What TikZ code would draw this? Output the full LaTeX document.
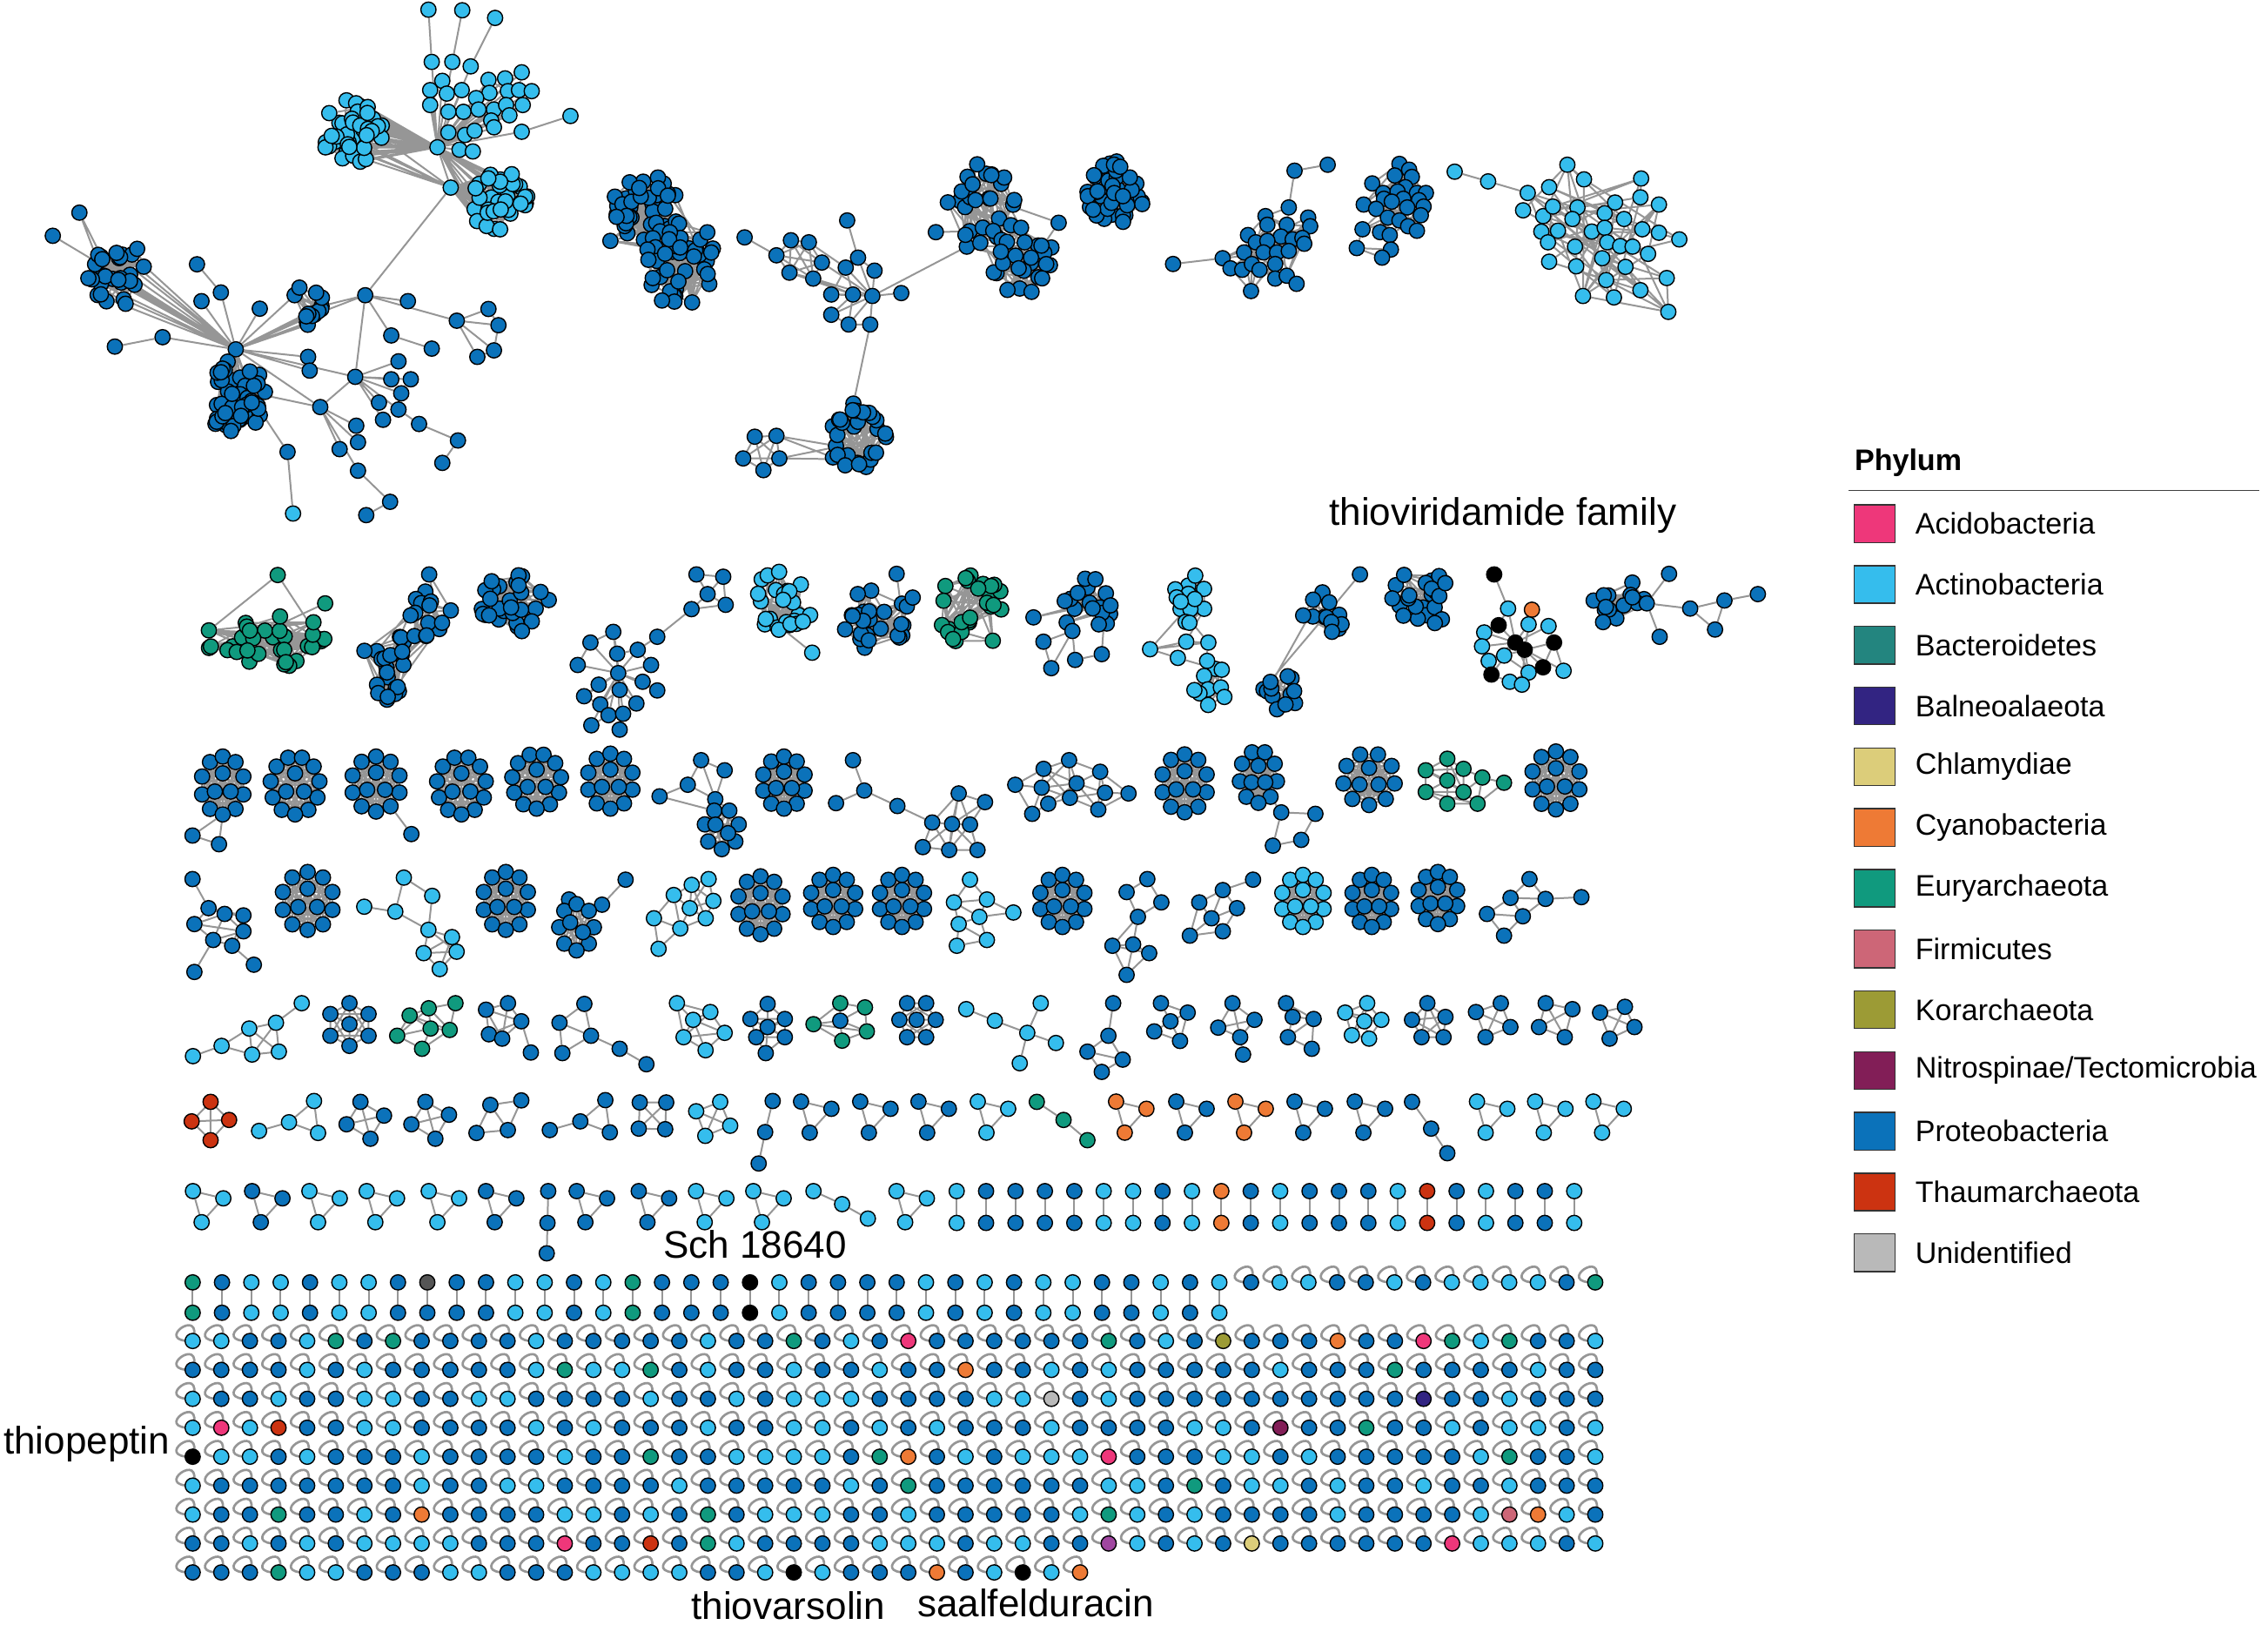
\documentclass[tikz,border=0pt]{standalone}
\usepackage{fontspec}
\setmainfont{Liberation Sans}
\pgfdeclarelayer{bgw}
\pgfdeclarelayer{bg}
\pgfsetlayers{bgw,bg,main}
\definecolor{P}{RGB}{11,114,186}
\definecolor{A}{RGB}{53,189,237}
\definecolor{E}{RGB}{16,154,126}
\definecolor{B}{RGB}{35,133,127}
\definecolor{C}{RGB}{238,122,53}
\definecolor{D}{RGB}{238,55,122}
\definecolor{T}{RGB}{204,51,17}
\definecolor{K}{RGB}{156,155,53}
\definecolor{N}{RGB}{130,30,87}
\definecolor{M}{RGB}{160,70,160}
\definecolor{F}{RGB}{205,102,119}
\definecolor{H}{RGB}{220,205,122}
\definecolor{L}{RGB}{50,36,130}
\definecolor{U}{RGB}{185,185,185}
\definecolor{X}{RGB}{0,0,0}
\definecolor{G}{RGB}{85,85,85}
\definecolor{edgec}{RGB}{150,150,150}
\tikzset{
  nd/.style={circle,draw=black,line width=0.85pt,minimum size=10.5pt,inner sep=0pt},
  lnk/.style={draw=edgec,line width=1.2pt},
  slp/.style={draw=edgec,line width=1.6pt},
  lab/.style={font=\fontsize{26.5}{30}\selectfont,inner sep=0pt},
  leg/.style={font=\fontsize{20.5}{24}\selectfont,inner sep=0pt,anchor=west},
  swatch/.style={draw=black!80,line width=0.8pt,minimum width=28pt,minimum height=26pt,inner sep=0pt}
}
\newcommand\nod[4]{\node[nd,fill=#4] (#1) at (#2,#3) {};}
\newcommand\lks[1]{\begin{pgfonlayer}{bg}\draw[lnk] \foreach \ea/\eb in {#1}{(\ea) -- (\eb)};\end{pgfonlayer}}
\newcommand\motif[3]{%
  \foreach \px/\py/\pc [count=\k] in {#2}{\node[nd,fill=\pc] (#1-\k) at (\px,\py) {};}%
  \begin{pgfonlayer}{bg}\draw[lnk] \foreach \ea/\eb in {#3}{(#1-\ea) -- (#1-\eb)};\end{pgfonlayer}}
\newcommand\rlinksx[3]{%
  \gdef\mypath{}%
  \foreach \k in {1,...,#2}{\foreach \m in {1,...,#3}{%
     \pgfmathtruncatemacro\jj{min(#2,1+floor(rnd*#2))}%
     \ifnum\jj=\k\relax\else\xdef\mypath{\mypath (#1-\k) -- (#1-\jj)}\fi}}%
  \begin{pgfonlayer}{bg}\draw[lnk] \mypath;\end{pgfonlayer}}
\newcommand\rlinks[4]{\pgfmathsetseed{#4}\rlinksx{#1}{#2}{#3}}
\newcommand\rclus[8]{%
  \pgfmathsetseed{#8}%
  \foreach \k in {1,...,#6}{%
    \pgfmathsetmacro\myang{360*rnd}%
    \pgfmathsetmacro\myrad{sqrt(rnd)}%
    \node[nd,fill=#7] (#1-\k) at ({#2+#4*\myrad*cos(\myang)},{#3+#5*\myrad*sin(\myang)}) {};}%
  \rlinksx{#1}{#6}{4}}
\newcommand\ring[8]{%
  \foreach \k in {1,...,#6}{\node[nd,fill=#8] (#1-\k) at ({#2+#4*cos(90+360*\k/#6)},{#3+#5*sin(90+360*\k/#6)}) {};}%
  \foreach \k in {1,...,#7}{\node[nd,fill=#8] (#1-i\k) at ({#2+0.42*#4*cos(30+360*\k/#7)},{#3+0.42*#5*sin(30+360*\k/#7)}) {};}%
  \gdef\mypath{}%
  \foreach \ea in {1,...,#6}{%
    \foreach \eb in {\ea,...,#6}{\ifnum\ea<\eb\relax\xdef\mypath{\mypath (#1-\ea) -- (#1-\eb)}\fi}%
    \foreach \eb in {1,...,#7}{\xdef\mypath{\mypath (#1-\ea) -- (#1-i\eb)}}}%
  \begin{pgfonlayer}{bg}\draw[lnk] \mypath;\end{pgfonlayer}}
\newcommand\tri[4]{%
  \node[nd,fill=#4] (#1-1) at (#2,#3) {};%
  \node[nd,fill=#4] (#1-2) at (#2+21,#3+5) {};%
  \node[nd,fill=#4] (#1-3) at (#2+6,#3+21.5) {};%
  \begin{pgfonlayer}{bg}\draw[lnk] (#1-1) -- (#1-2) -- (#1-3) -- (#1-1);\end{pgfonlayer}}
\newcommand\grow[4]{%
  \foreach \cc [count=\k from 0] in {#4}{\node[nd,fill=\cc] (g#1-\k) at (133.2+19.79*\k,#2) {};}%
  \begin{pgfonlayer}{bg}\draw[slp] \foreach \k in {0,...,#3}{(g#1-\k.center) .. controls +(8,-25) and +(-29,1) .. (g#1-\k.center)};\end{pgfonlayer}}
\newcommand\legitem[3]{\node[swatch,fill=#2] (sw#1) at (1296,362+42*#1) {};\node[leg] (lg#1) at (1324,362+42*#1) {#3};}
\begin{document}
\begin{tikzpicture}[x=1pt,y=-1pt]
\useasboundingbox (0,0) rectangle (1568,1123);
\begin{pgfonlayer}{bgw}\fill[white] (0,0) rectangle (1568,1123);\end{pgfonlayer}

% ================= top-left component =================
\rclus{la}{245}{92}{22}{24}{45}{A}{101}
\nod{h1}{302.4}{101.8}{A}
\nod{h2}{311.6}{129.7}{A}
\rclus{lb}{343}{139}{22}{22}{34}{A}{102}
\motif{lc}{337.7/55.2/A,349.2/54.2/A,360.7/50/A,338.4/64.2/A,329.2/67.8/A,351.1/63/A,358.8/62.3/A,367.6/63/A,330.8/75.7/A,341.5/75.7/A,349.9/72.6/A,361.4/72.6/A,339.6/83.3/A,352.2/79.7/A}{1/2,2/3,1/4,2/6,3/7,4/5,4/6,6/7,7/8,5/9,9/10,10/11,11/12,6/11,10/13,13/14,11/14,8/12,1/6,4/10}
\motif{lch}{296.2/6.7/A,319.6/7.1/A,342.3/12.4/A,298.5/42.8/A,312.7/42.8/A,325.4/45.9/A,305.8/55.9/A,297.4/62.3/A,308.9/64.7/A,319.2/62.3/A,297.4/72.6/A,310/77.3/A,320.4/77.3/A,310/91.6/A,321.5/93.3/A,317.7/103.5/A,326.9/104.7/A,328.1/90.4/A,341.5/88/A,360.7/91.1/A,394.4/80.2/A}{1/4,2/5,3/6,20/21}
\begin{pgfonlayer}{bg}
\draw[lnk] \foreach \k in {1,...,45}{(la-\k) -- (h1)};
\draw[lnk] \foreach \k in {4,...,20}{(lch-\k) -- (h1)};
\draw[lnk] \foreach \k in {1,...,14}{(lc-\k) -- (h1)};
\draw[lnk] \foreach \k in {1,...,34}{(lb-\k) -- (h2)};
\draw[lnk] \foreach \k in {1,...,18}{(lb-\k) -- (h1)};
\draw[lnk] \foreach \k in {1,3,...,11}{(la-\k) -- (h2)};
\draw[lnk] (h1) -- (h2);
\end{pgfonlayer}
\nod{hA}{252.5}{204.1}{P}
\nod{hB}{163}{241.5}{P}
\nod{hC}{245.6}{260.5}{P}
\nod{hD}{221.4}{281.4}{P}
\rclus{db}{163}{274}{22}{25}{50}{P}{103}
\rclus{dl}{84}{189}{24}{22}{28}{P}{104}
\rclus{ds}{212}{213}{15}{17}{14}{P}{105}
\motif{do}{54.9/147/P,36.5/163/P,136.2/182.7/P,152.7/202.2/P,139.3/208.2/P,179.6/213.4/P,112.4/233.1/P,79.4/239.6/P,282/208.2/P,337.7/213.6/P,315.8/221.7/P,344.6/224.8/P,270.5/231.9/P,298.5/241/P,330/246.7/P,341.5/242.2/P,213/246.7/P,214.1/256.2/P,275.5/249.8/P,270.5/262.2/P,284/262.2/P,277.4/271.9/P,262/278.3/P,275.5/283.1/P,264.8/290.2/P,289.7/293.1/P,316.6/304.5/P,305.8/320/P,246.3/294.3/P,247.5/305.7/P,234.8/310.5/P,247.5/325.4/P,269.7/346.9/P,253.2/356.1/P,198.8/312.4/P,202.6/355/A}{3/4,7/8,11/10,11/12,11/15,11/16,10/12,15/16,13/14,24/26,26/27,27/28,32/33,33/34,35/36,12/16}
\lks{do-1/dl-1,do-1/dl-5,do-2/dl-2,hB/do-4,hB/do-5,hB/do-6,hB/do-7,hA/do-9,hA/do-11,hA/do-13,hA/hC,hA/h2,hB/do-17,hB/do-18,hB/hC,hB/hD,hC/do-19,hC/do-20,hC/do-21,hC/do-22,hC/do-23,hC/do-24,hC/hD,hC/do-25,hD/do-29,hD/do-30,hD/do-31,hD/do-32,db-1/do-35,hD/db-2,hA/ds-1,hA/ds-2,hB/ds-3}
\begin{pgfonlayer}{bg}
\draw[lnk] \foreach \k in {1,...,14}{(dl-\k) -- (hB)};
\draw[lnk] \foreach \k in {1,...,7}{(ds-\k) -- (hB)};
\draw[lnk] \foreach \k in {1,...,15}{(db-\k) -- (hB)};
\end{pgfonlayer}

% ================= top-middle components =================
\rclus{ma}{446}{143}{24}{24}{40}{P}{201}
\rclus{mb}{472}{183}{26}{30}{40}{P}{202}
\nod{mx}{422}{166.5}{P}
\begin{pgfonlayer}{bg}
\draw[lnk] \foreach \k in {1,...,15}{(ma-\k) -- (mb-\k)};
\draw[lnk] \foreach \k in {1,...,5}{(mx) -- (mb-\k)};
\draw[lnk] \foreach \k in {1,...,3}{(mx) -- (ma-\k)};
\end{pgfonlayer}
\motif{ms}{514.8/164.1/P,546.8/166.1/P,559.2/167.5/P,536.8/176.5/P,568.2/181.5/P,545.8/188.5/P,562.2/192.6/P}{1/4,2/3,2/4,2/5,2/6,2/7,3/4,3/5,3/6,3/7,4/5,4/6,4/7,5/6,5/7,6/7}
\motif{mh}{603.1/204.6/P,585.7/152.4/P,593.2/178.1/P,584.7/185/P,604.6/187.1/P,623.1/202.6/P,574.7/203.6/P,589.7/203.6/P,574.7/217.6/P,586.7/224.3/P,601.6/224.3/P}{1/3,1/4,1/5,1/6,1/7,1/8,1/9,1/10,1/11,2/3,3/4,3/5,4/8,7/8,8/9,9/10,10/11,4/7,8/10}
\lks{ms-5/mh-1,ms-7/mh-1,ms-6/mh-8,ms-3/mh-4,ms-7/mh-8}
\nod{m3c}{668.4}{170.5}{P}
\rclus{m3a}{680}{140}{25}{28}{26}{P}{203}
\rclus{m3b}{707}{180}{22}{24}{24}{P}{204}
\nod{m3e}{647}{160.5}{P}
\nod{m3f}{731.9}{154}{P}
\begin{pgfonlayer}{bg}
\draw[lnk] \foreach \k in {1,...,5}{(m3c) -- (m3a-\k)};
\draw[lnk] \foreach \k in {1,...,3}{(m3c) -- (m3b-\k)};
\draw[lnk] \foreach \k in {1,...,12}{(m3a-\k) -- (m3b-\k)};
\end{pgfonlayer}
\lks{mh-1/m3c,m3e/m3a-1,m3f/m3b-2,m3f/m3a-3}
\rclus{m4}{771}{135}{22}{24}{42}{P}{205}
\nod{mb0}{590}{279}{P}
\rclus{mbt}{593}{305}{20}{23}{30}{P}{206}
\lks{mh-11/mb0,mb0/mbt-1,mb0/mbt-2,mb0/mbt-3}
\motif{mp}{521.8/301.9/P,536.8/301.3/P,513.8/316.9/P,538.8/316.9/P,527.8/325/P}{1/2,1/3,1/4,1/5,2/3,2/4,2/5,3/4,3/5,4/5}
\lks{mp-2/mbt-1,mp-4/mbt-2,mp-2/mbt-3,mp-4/mbt-4}
\motif{m5}{874.9/149.4/P,904.4/150.4/P,905.8/156.4/P,876.2/155.4/P,889.6/155.4/P,862.8/162.5/P,885.6/163.5/P,893.7/165.5/P,900.4/164.5/P,868.2/167.5/P,876.2/166.5/P,860.1/174.5/P,873.5/174.5/P,882.9/174.5/P,891/173.5/P,901.7/168.5/P,845.3/178.5/P,850.7/185.5/P,858.8/186.5/P,865.5/182.5/P,870.8/186.5/P,881.6/182.5/P,881.6/192.6/P,889.6/190.6/P,896.4/196.2/P,864.9/201.2/P}{1/4}
\rlinks{m5}{26}{3}{401}
\motif{m5x}{811/182.5/P,891/143.4/P,895/118/P,917.9/113.9/P}{2/3,3/4}
\lks{m5x-1/m5-17,m5x-2/m5-1,m5x-2/m5-5}
\motif{m6}{967.5/113.3/P,974.2/117.3/P,976.1/122.3/P,964.3/121.3/P,948.7/126.8/P,971.6/129.4/P,956.3/133.4/P,979.6/133.4/P,985.8/133.4/P,966.2/132.4/P,956.8/137.4/P,970.2/137.4/P,981/138.4/P,942.8/141.4/P,951.4/144.4/P,962.2/139.4/P,972.9/143.4/P,984.2/142.8/P,982.3/148.8/P,959.5/150.4/P,967.5/152.4/P,973.5/156.4/P,979.6/159.5/P,942/158.5/P,954.1/160.5/P,960.8/162.5/P,938/171.5/P,961.6/172.5/P,955.5/178.1/P}{27/28,27/29,28/29,24/27}
\rlinks{m6}{26}{3}{402}
\motif{m7c}{1005.7/118.7/A,1028.8/125.4/A}{1/2}
\motif{m7}{1056.2/133.4/A,1071/129.4/A,1083.6/113.9/A,1095.1/124/A,1053/145.4/A,1066.9/149.4/A,1073.6/142.8/A,1090.6/143.4/A,1087.1/151.4/A,1065.6/160.1/A,1077.1/159.5/A,1100.5/160.1/A,1109.4/147.4/A,1116.6/140/A,1109.4/157.5/A,1122.8/151.4/A,1134.1/136.4/A,1134.6/123.4/A,1146.9/141.4/A,1135.4/158.5/A,1146.9/160.9/A,1161/165.5/A,1070.2/167.5/A,1088.9/170.5/A,1111.2/167.5/A,1120.1/170.1/A,1128.7/170.5/A,1107.7/178.5/A,1123.8/184.5/A,1139.4/175.5/A,1071/180.9/A,1089.7/184.1/A,1110.4/193.6/A,1152.3/192.2/A,1134.1/200.6/A,1094.4/204.6/A,1115.8/205.6/A,1153.4/215.6/A}{34/38}
\rlinks{m7}{38}{2}{403}
\lks{m7c-2/m7-1}

% ================= row 2 (cluster row) =================
\rclus{r1}{180}{442}{45}{21}{32}{E}{301}
\nod{r1t}{192}{397.5}{E}\nod{r1u}{224.8}{417.1}{E}
\lks{r1t/r1-1,r1t/r1-2,r1u/r1-3}
\rclus{r2a}{268}{461}{22}{25}{22}{P}{302}
\rclus{r2b}{297}{428}{16}{20}{14}{P}{303}
\nod{r2t}{296.7}{397.1}{P}
\lks{r2t/r2b-1,r2t/r2b-2}
\begin{pgfonlayer}{bg}\draw[lnk] \foreach \k in {1,...,10}{(r2a-\k) -- (r2b-\k)};\end{pgfonlayer}
\rclus{r3}{355}{416}{25}{21}{28}{P}{304}
\motif{r4}{424/436.8/P,408.2/444.2/P,426.7/451.9/P,440.9/449.2/P,399.4/459.7/P,427.4/465.3/P,450.1/459.7/P,444.3/471.3/P,413.9/473.3/P,428.4/476.9/P,454.4/477.3/P,403.8/481.3/P,415/486.9/P,440/486.3/P,420.7/494.4/P,430.8/493.4/P,408.8/501.4/P,428.4/504.4/P,454.4/440.2/P,478.1/421.1/P,481.5/397.1/P,500/398.7/P,489.2/410.7/P,501.7/418.1/P}{6/1,6/2,6/3,6/4,6/5,6/7,6/8,6/9,6/10,6/11,6/12,6/13,6/14,6/15,6/16,6/17,6/18,1/3,2/5,4/7,9/12,10/13,13/15,15/17,16/18,14/16,12/13,3/4,4/19,19/20,20/24,20/23,21/22,21/23,22/23,23/24,22/24,1/2,8/11,10/14}
\rclus{r5}{541}{415}{22}{21}{26}{A}{305}
\nod{r5t}{561.5}{451.2}{A}\lks{r5t/r5-1}
\rclus{r6}{606}{428}{24}{22}{24}{P}{306}
\nod{r6t}{619.9}{396.7}{P}\nod{r6u}{631}{413.1}{P}\lks{r6t/r6-1,r6u/r6-2}
\rclus{r7}{673}{421}{24}{27}{26}{E}{307}
\rclus{r8}{752}{417}{21}{19}{18}{P}{308}
\motif{r8t}{714.5/426.8/P,721.4/443.6/P,726.8/461.9/P,743.3/456.2/P,761.7/452.2/P,741.4/436.2/P}{6/2,2/3,6/4,4/5,6/3}
\lks{r8t-1/r8-1,r8t-6/r8-2,r8t-5/r8-3,r8t-1/r8-4}
\rclus{r9a}{826}{413}{16}{19}{14}{A}{309}
\rclus{r9b}{836}{472}{15}{16}{10}{A}{310}
\motif{r9m}{795.1/448.8/A,814.3/454.8/A,820.1/443.6/A,835.4/444.2/A}{1/2,1/3,3/4,1/4}
\lks{r9m-3/r9a-1,r9m-4/r9a-2,r9m-2/r9b-1,r9m-4/r9b-2,r9m-1/r9a-3}
\rclus{r10a}{886}{478}{17}{18}{12}{P}{311}
\rclus{r10b}{915}{423}{17}{18}{12}{P}{312}
\nod{r10t}{940.2}{397.1}{P}
\lks{r10t/r10b-1,r10a-1/r10b-1,r10a-2/r10b-2}
\rclus{r11}{982}{415}{24}{20}{22}{P}{313}
\motif{th}{1033/397.1/X,1042.6/420.7/A,1059.1/421.5/C,1036.1/432.2/X,1056.8/431.6/A,1070.6/432.8/A,1026.1/437.2/A,1024.6/446.8/A,1047.6/444.2/X,1054.1/449.2/X,1074.4/444.2/X,1039.9/453.2/A,1029.2/456.9/A,1066.8/461.3/X,1081/463.7/A,1056.8/464.9/A,1031.1/466.3/X,1043.8/471.3/A,1052.2/473.3/A}{1/2,2/9,3/10,4/9,5/9,6/9,7/9,8/9,9/10,10/11,10/12,10/14,10/15,10/16,9/13,9/16,11/14,11/15,12/13,13/17,16/18,16/19,17/18,18/19,4/7,5/10,6/11,9/12,9/17,10/19,14/16,8/13,12/16,2/4}
\rclus{r13}{1119}{417}{18}{17}{14}{P}{314}
\motif{r13t}{1138.5/417.1/P,1153.9/396.7/P,1147.4/440.2/P,1168.5/420.7/P,1192.2/415.1/P,1185.7/435.2/P,1215.3/410.7/P}{1/2,1/3,1/4,4/5,4/6,5/6,5/7}
\begin{pgfonlayer}{bg}\draw[lnk] \foreach \k in {1,...,6}{(r13t-1) -- (r13-\k)};\end{pgfonlayer}

% ================= row 3 =================
\ring{q1}{154}{543}{15}{20}{10}{3}{P}
\nod{q1a}{133.1}{577.6}{P}\nod{q1b}{151.4}{583.6}{P}\lks{q1-10/q1a,q1-10/q1b,q1a/q1b}
\ring{q2}{204}{543}{17}{20}{11}{3}{P}
\ring{q3}{260}{542}{17}{19}{10}{3}{P}
\nod{q3a}{284.4}{576.6}{P}\lks{q3-9/q3a}
\ring{q4}{319}{543}{17}{20}{11}{3}{P}
\ring{q5}{371}{540}{17}{19}{11}{3}{P}
\ring{q6}{422}{540}{16}{19}{10}{3}{P}
\motif{q7}{484.7/525.5/P,501/532.5/P,475.5/542.5/P,456/550.5/P,494.5/552.5/P}{1/2,1/3,3/4,3/5,2/5,1/5}
\ring{q7r}{499}{573}{12}{14}{7}{2}{P}
\lks{q7-5/q7r-3,q7-4/q7r-3,q7-5/q7r-4}
\ring{q8}{542}{541}{15}{18}{10}{3}{P}
\motif{q9}{589.7/525.5/P,597.5/546.5/P,578/555.2/P,620.4/557.2/P,662.8/548.5/P,681/554.5/P,644.5/568.6/P,658.2/569.6/P,670.6/570/P,638/585.6/P,656.2/587.6/P,675.8/587.6/P}{1/2,2/3,2/4,4/7,5/6,5/7,5/8,5/9,6/9,7/8,8/9,7/10,8/10,8/11,9/12,10/11,11/12,7/11,9/11,6/8,8/12,5/11}
\motif{q10}{739.1/525.5/P,721.5/531.5/P,760.6/533.5/P,744.3/541.5/P,701.9/542.5/P,720.2/544.5/P,780.2/548.5/P,763.9/548/P,739.7/551.5/P,724.7/555.6/P,759.3/559.6/P,713.6/562.6/P}{1/2,1/3,1/4,2/4,2/5,2/6,3/4,3/7,3/8,4/6,4/8,4/9,5/6,5/12,6/9,6/10,7/8,7/11,8/9,8/11,9/10,9/11,10/12,4/10,4/11,2/9,1/9,6/12,3/11,1/6}
\ring{q11}{819}{541.5}{16}{20}{10}{3}{P}
\ring{q12}{870}{537}{13}{18}{9}{3}{P}
\motif{q12t}{885.8/561.6/P,909.4/562.6/P,899.6/580.6/P,880/584.6/P}{1/2,1/4,2/3,3/4}
\lks{q12-8/q12t-1}
\ring{q13}{946.5}{538.5}{18}{18}{9}{3}{P}
\motif{q14}{1000.6/524.5/E,985.7/532.5/E,1011.8/531.5/E,1000.6/539.5/E,1024.8/537.5/E,985.7/547.5/E,1011.8/547.5/E,1039.8/541.1/E,1000.6/555.6/E,1021.5/555.6/E}{1/2,1/3,1/4,2/4,3/4,3/5,2/6,4/6,4/7,5/7,5/8,6/7,6/9,7/9,7/10,9/10,8/10,4/9,3/7,2/3,5/10,1/7,2/7,6/10}
\ring{q15}{1075.7}{539.5}{17}{20}{10}{3}{P}

% ================= row 4 =================
\motif{w1}{133.1/607.7/P,144.2/627.8/P,155.3/631.8/P,168.3/632.8/P,134.4/638.8/P,168.3/643.8/P,147.4/649.8/P,160.5/653.8/P,134.4/671.9/P,175.5/666.9/P}{1/2,2/3,2/4,2/5,3/5,3/6,4/6,5/7,6/7,6/8,7/8,3/7,4/8,7/9,8/10,5/6,3/4}
\ring{w2}{212.7}{622.8}{18}{20}{10}{3}{P}
\motif{w3}{279.2/606.7/A,298.8/619.3/A,251.8/626.8/A,273.3/630.2/A,296.2/642.8/A,312.5/647.8/A,292.9/658.9/A,315.7/657.9/A,304/669.9/A}{1/4,1/2,3/4,2/5,4/5,5/6,5/7,5/8,6/7,6/8,7/8,7/9,8/9,6/9}
\ring{w4}{349.7}{622.8}{16}{20}{10}{3}{P}
\motif{w5}{432.5/608.1/P,416.2/625.4/P,393.4/621.8/P}{1/2}
\ring{w5r}{398.6}{641}{12}{16}{8}{2}{P}
\lks{w5-2/w5r-5,w5-3/w5r-4,w5-3/w5r-5}
\motif{w6}{489.9/607.7/A,478.2/611.7/A,465.8/618.7/A,493.2/622.8/A,476.9/627.8/A,452.1/634.8/A,487.9/634.8/A,470.3/641.8/A,455.3/655.9/A}{1/2,1/4,2/3,2/4,2/5,3/5,3/6,4/5,4/7,5/7,5/8,6/8,7/8,3/8,6/9,8/9,1/5,2/7}
\ring{w7}{525.8}{625.8}{16}{20}{10}{3}{P}
\ring{w8}{576}{622.8}{16}{18}{10}{3}{P}
\ring{w9}{623.6}{622.8}{16}{18}{10}{3}{P}
\motif{w10}{670.6/608.1/A,659.5/623.8/A,682.3/621.8/A,677.1/633.8/A,700.6/630.8/A,662.8/638.8/A,682.3/649.8/A,661.5/653.8/A}{1/2,1/3,2/3,2/4,3/4,3/5,4/5,2/6,4/6,6/7,6/8,7/8,4/7}
\ring{w11}{734.5}{622.8}{16}{18}{10}{3}{P}
\motif{w12}{793.2/607.7/P,778.9/616.7/P,802.9/623.8/P,786.7/633.8/P,769.1/653.8/P,783.4/652.9/P,794.5/658.9/P,778.9/673.9/P}{1/2,1/3,2/4,3/4,4/6,5/6,5/7,6/7,5/8,6/8,7/8,4/5}
\motif{w13}{866.3/608.1/P,845.4/615.3/P,829.1/623.8/P,855.2/627.8/P,837.6/634.8/P,845.4/643.8/P,822.6/646.8/P}{1/2,2/3,2/4,3/5,4/5,2/5,5/6,4/6,6/7,5/7,3/7}
\ring{w14}{900.8}{622.8}{15}{18}{10}{3}{A}
\ring{w15}{948.4}{622.8}{14}{18}{10}{3}{P}
\ring{w16}{994.1}{620.8}{14}{18}{10}{3}{P}
\motif{w17}{1057.4/607.7/P,1044.3/620.7/P,1068.5/621.4/P,1093.3/620.2/P,1028/631.8/P,1052.8/633.4/P,1039.8/646.8/P}{1/2,2/3,3/4,2/5,2/6,3/6,5/6,5/7,6/7,1/3}

% ================= row 5 =================
\motif{v1}{133.4/730.1/A,153.2/723/A,172.3/711/A,190.8/707/A,192.8/727/A,174.3/729/A,208.6/693.5/A}{1/2,2/3,3/4,4/5,5/6,6/3,3/5,4/6,4/7,2/6}
\motif{v2}{228.4/701/P,241.6/693.5/P,254.8/701/P,228.4/716/P,241.6/723/P,254.8/716/P,241.6/708/P}{1/2,2/3,3/6,6/5,5/4,4/1,7/1,7/2,7/3,7/4,7/5,7/6,1/3,4/6,1/6,3/4,2/5,1/5,3/5,2/4,2/6}
\motif{v3}{283.2/702/E,296.4/697/E,314.9/693.5/E,274.6/716/E,297.7/711/E,310.9/712/E,291.8/725/E}{1/2,2/3,1/4,1/5,2/5,2/6,3/6,4/5,5/6,4/7,5/7,6/7,1/6,2/4}
\motif{v4}{336/698/P,351.2/693.5/P,360.4/706/P,338/715/P,347.2/718/P,367/727.6/P}{1/2,1/3,2/3,1/4,3/4,3/5,4/5,2/5,3/6,1/5}
\motif{v5}{404/694/P,386.8/707/P,408.6/716/P,388.8/728/P,428.4/725/P,446.9/735.7/P}{1/2,2/3,2/4,3/4,3/5,5/6,1/3}
\motif{v6}{468/693.5/A,491.1/699.6/A,479.2/705/A,472.6/717/A,501/714/A,487.8/726/A}{1/2,1/3,2/3,1/4,3/4,2/5,3/5,4/5,4/6,5/6,3/6,2/4}
\motif{v7}{530.7/694/P,518.8/704.4/P,542.6/704.4/P,522.8/717/P,542.6/717/P,529.4/728/P,530.7/710/P}{1/2,1/3,2/4,3/5,4/6,5/6,7/1,7/2,7/3,7/4,7/5,7/6,2/3,4/5,2/5,3/4}
\motif{v8}{580.9/693.5/E,598/696.4/E,562.4/708/E,580.9/705.6/P,599.3/713/E,582.2/719.4/E}{1/2,1/3,1/4,2/4,2/5,3/4,4/5,3/6,4/6,5/6,3/5}
\motif{v9}{627.1/693.5/P,640.3/693.5/P,621.8/705/P,646.9/705/P,627.1/717/P,640.3/717/P,633.7/705/P}{1/2,1/3,2/4,3/5,4/6,5/6,7/1,7/2,7/3,7/4,7/5,7/6,1/4,2/3,3/6,4/5}
\motif{v10}{668/697.6/A,687.8/705.6/A,710.2/714/A,719.5/693.5/A,730/721/A,705/735/A}{1/2,2/3,3/4,3/5,3/6}
\motif{v11}{769.6/693.5/P,766.3/716/P,751.8/727/P,776.2/732.5/P,761.7/741/P}{1/2,2/3,2/4,3/4,3/5,4/5}
\motif{v12}{802.6/693.5/P,821.1/700/P,809.2/706/P,798/713/P,815.8/719.6/P}{1/2,1/3,2/3,3/4,2/5,4/5,3/5}
\motif{v13}{852.1/693.5/P,867.3/705/P,842.2/710.4/P,857.4/717/P,859.4/729/P}{1/2,1/3,2/3,3/4,2/4,4/5,1/4}
\motif{v14}{889.1/693.5/P,908.2/704.4/P,893.7/703/P,890.4/717/P,906.9/725/P}{1/3,1/2,2/3,3/4,2/4,2/5,4/5}
\motif{v15}{945.2/693.5/A,930/700/A,955/705/A,934.6/715.6/A,946.5/718/A,943.2/706/A}{1/2,1/3,2/4,3/5,4/5,6/1,6/2,6/3,6/4,6/5,1/4,2/3}
\motif{v16}{986.8/693.5/P,999.3/703/P,976.2/705/P,982.8/717/P,998/717/P}{1/2,1/3,2/3,2/4,2/5,3/4,3/5,4/5,1/4,1/5}
\motif{v17}{1020.4/699.6/P,1037.6/693.5/P,1044.2/710/P,1027/717/P}{1/2,1/3,1/4,2/3,2/4,3/4}
\motif{v18}{1068.6/693.5/P,1087.1/697.6/P,1064/710/P,1081.8/717/P}{1/2,1/3,1/4,2/3,2/4,3/4}
\motif{v19}{1106.2/700/P,1123.4/696/P,1130/710/P,1112.8/718/P}{1/2,1/3,1/4,2/3,2/4,3/4}

% ================= row 6 =================
\motif{u1}{145.6/761.7/T,132.5/775.2/T,158.4/774.2/T,145.6/788.2/T}{1/2,1/3,2/3,2/4,3/4,1/4}
\motif{u2}{179.1/781.8/A,199.8/775.8/A,217.1/761.1/A,219.9/783.2/A}{1/2,2/3,2/4,3/4}
\motif{u3}{249.2/761.7/P,265.5/771.2/P,239.6/777.2/P,256.1/787.2/P}{1/2,1/3,1/4,2/3,2/4,3/4}
\motif{u4}{294.1/761.7/P,310.4/770.6/P,284.4/777.2/P,301/787.2/P}{1/2,1/3,1/4,2/3,2/4,3/4}
\motif{u5}{339/763.8/P,360.4/760.7/P,329.4/783.2/P,351.1/781.2/P}{1/2,1/3,1/4,3/4,2/4}
\motif{u6}{380.1/781.2/P,401.2/775.2/P,418.5/760.5/P,421.6/782.8/P}{1/2,2/3,2/4,3/4}
\motif{u7}{442.3/762.1/P,460.6/762.1/P,441.6/780.2/P,459.9/780.6/P}{1/2,1/3,1/4,2/3,2/4,3/4}
\motif{u8}{497.9/761.7/A,481.3/768.2/A,504.8/778.2/A,487.6/785.2/A}{1/2,1/3,1/4,2/3,2/4,3/4}
\motif{u9}{534.2/761.1/P,529/782.6/P,524.5/804.3/P}{1/2,2/3}
\tri{u10}{553.8}{761.5}{P}
\tri{u11}{594.7}{761.5}{P}
\tri{u12}{635}{761.5}{P}
\tri{u13}{676}{761.5}{A}
\motif{u14}{716.8/761.7/E,735.3/774.2/E,751.8/788.2/E}{1/2,2/3}
\tri{u15}{771.6}{761.5}{C}
\tri{u16}{813.2}{761.5}{P}
\tri{u17}{854.1}{761.5}{C}
\tri{u18}{895}{761.5}{P}
\tri{u19}{936.6}{761.5}{P}
\motif{u20}{976.2/761.7/P,989.4/780.2/P,1000.6/797.2/P}{1/2,2/3}
\tri{u21}{1021.1}{761.5}{A}
\tri{u22}{1061.3}{761.5}{A}
\tri{u23}{1101.6}{761.5}{A}

% ================= row 7 =================
\tri{s1}{133.4}{823.4}{A}
\tri{s2}{174.3}{823.4}{P}
\tri{s3}{213.9}{823.4}{A}
\tri{s4}{253.5}{823.4}{A}
\tri{s5}{296.4}{823.4}{A}
\tri{s6}{336}{823.4}{P}
\motif{s7}{379/823.4/P,378.5/845.4/P,378/866.4/P}{1/2,2/3}
\tri{s8}{398.7}{823.4}{P}
\tri{s9}{441.6}{823.4}{P}
\tri{s10}{481.2}{823.4}{A}
\tri{s11}{520.8}{823.4}{A}
\motif{s12}{562.4/823.4/A,582.2/832.4/A,600/842.4/A}{1/2,2/3}
\tri{s13}{619.8}{823.4}{A}
\foreach \cc [count=\k from 0] in {A,P,P,P,P,A,A,P,A,C,P,A,P,P,P,A,T,P,A,P,P,A}{%
  \nod{sp\k}{661.4+20.33*\k}{823.4}{\cc}\nod{sq\k}{661.4+20.33*\k}{845.4}{\cc}}
\begin{pgfonlayer}{bg}\draw[lnk] \foreach \k in {0,...,21}{(sp\k) -- (sq\k)};\end{pgfonlayer}

% ================= pair row and self-loop grid =================
\foreach \cc/\dd [count=\k from 0] in {E/E,P/P,A/A,A/A,P/P,A/A,A/A,P/P,G/P,P/P,P/P,A/A,A/A,P/P,A/A,E/E,P/P,P/P,P/P,X/X,A/A,P/P,P/P,P/P,P/P,A/A,P/P,A/A,P/P,A/A,A/A,P/P,P/P,A/A,P/P,A/A}{%
  \nod{pt\k}{133.2+20.28*\k}{886.5}{\cc}\nod{pb\k}{133.2+20.28*\k}{907.5}{\dd}}
\begin{pgfonlayer}{bg}\draw[lnk] \foreach \k in {0,...,35}{(pt\k) -- (pb\k)};\end{pgfonlayer}
\foreach \cc [count=\k from 0] in {P,A,A,P,P,A,P,A,A,A,A,P,E}{\nod{pl\k}{864.9+19.83*\k}{886.5}{\cc}}
\begin{pgfonlayer}{bg}\draw[slp] \foreach \k in {0,...,12}{(pl\k.center) .. controls +(8,-25) and +(-29,1) .. (pl\k.center)};\end{pgfonlayer}
\grow{1}{927}{49}{A,A,P,P,A,E,P,E,P,P,P,P,A,P,P,P,P,P,A,P,P,E,P,A,P,D,P,P,P,P,P,P,E,P,A,P,K,P,P,P,C,P,P,D,E,A,E,P,P,A}
\grow{2}{947}{49}{P,P,P,P,A,P,A,P,P,P,P,P,A,E,A,A,E,P,A,P,P,A,P,P,A,P,P,C,P,P,A,P,A,P,P,P,P,P,A,P,P,P,E,P,P,P,P,A,P,P}
\grow{3}{967}{49}{A,P,P,A,P,P,A,A,P,P,A,A,P,P,P,P,A,P,P,A,P,A,A,A,P,P,P,P,A,A,U,P,A,P,P,P,P,P,P,P,P,P,P,L,P,P,A,P,P,P}
\grow{4}{987}{49}{A,D,A,T,P,P,A,A,P,P,P,P,A,P,A,P,P,P,A,P,P,A,A,P,A,P,A,P,P,P,A,P,P,P,P,A,A,P,N,P,P,E,P,P,A,P,A,A,P,A}
\grow{5}{1007}{49}{X,A,A,P,A,P,P,P,A,P,P,P,P,A,P,P,E,P,P,A,A,A,A,P,E,C,P,A,P,A,A,A,D,P,P,P,A,A,P,A,P,P,P,P,P,A,E,P,P,A}
\grow{6}{1027}{49}{A,P,P,P,P,P,P,P,A,P,P,A,A,P,P,P,P,A,P,P,P,P,P,A,P,E,P,P,P,P,P,P,A,A,P,E,P,A,A,P,A,P,P,A,P,P,A,P,P,P}
\grow{7}{1047}{49}{A,P,P,E,P,P,A,P,C,P,P,P,P,A,A,P,A,P,E,P,A,A,A,P,P,A,P,P,P,P,P,A,E,A,P,A,P,P,P,P,A,P,P,P,P,A,F,C,A,P}
\grow{8}{1067}{49}{P,P,A,P,A,P,A,A,A,A,P,P,P,D,P,P,T,P,E,A,P,P,P,P,A,A,A,P,A,A,P,P,M,A,P,A,P,H,P,P,P,P,P,P,D,A,A,A,P,A}
\grow{9}{1087}{31}{P,P,P,E,A,A,P,P,P,A,A,P,P,P,A,A,A,A,P,P,A,X,A,P,P,P,C,P,A,X,A,C}

% ================= labels =================
\node[lab] (lthio) at (1039,356) {thioviridamide family};
\node[lab] (lsch) at (522,860) {Sch 18640};
\node[lab] (lpep) at (60,998) {thiopeptin};
\node[lab] (lvar) at (545,1110) {thiovarsolin};
\node[lab] (lsaal) at (716,1108) {saalfelduracin};

% ================= legend =================
\node[anchor=west,inner sep=0pt,font=\bfseries\fontsize{20.5}{24}\selectfont] (phy) at (1282,320) {Phylum};
\coordinate (ruleL) at (1278,339);
\coordinate (ruleR) at (1562,339);
\draw[line width=0.8pt,black!75] (ruleL) -- (ruleR);
\legitem{0}{D}{Acidobacteria}
\legitem{1}{A}{Actinobacteria}
\legitem{2}{B}{Bacteroidetes}
\legitem{3}{L}{Balneoalaeota}
\legitem{4}{H}{Chlamydiae}
\legitem{5}{C}{Cyanobacteria}
\legitem{6}{E}{Euryarchaeota}
\legitem{7}{F}{Firmicutes}
\legitem{8}{K}{Korarchaeota}
\legitem{9}{N}{Nitrospinae/Tectomicrobia}
\legitem{10}{P}{Proteobacteria}
\legitem{11}{T}{Thaumarchaeota}
\legitem{12}{U}{Unidentified}
\end{tikzpicture}
\end{document}
